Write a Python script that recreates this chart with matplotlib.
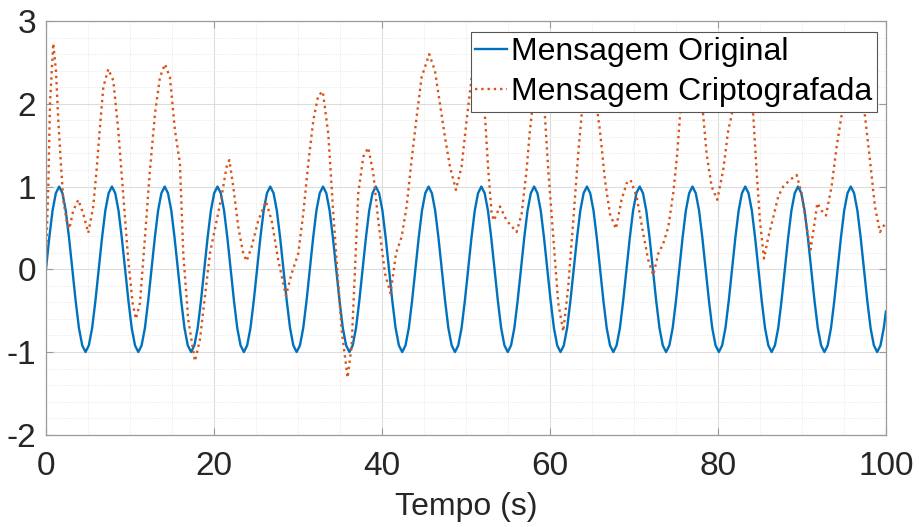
import numpy as np
import matplotlib
matplotlib.use('Agg')
import matplotlib.pyplot as plt
from matplotlib.ticker import MultipleLocator

plt.rcParams['font.family'] = ['Liberation Sans', 'DejaVu Sans']
plt.rcParams['axes.unicode_minus'] = False

# Mensagem original: leituras a cada pi/8 s (uma linha por periodo)
passo_orig = np.pi / 8
original = [
    0, .38, .71, .92, 1, .92, .71, .38, 0, -.38, -.71, -.92, -1, -.92, -.71, -.38,
    0, .38, .71, .92, 1, .92, .71, .38, 0, -.38, -.71, -.92, -1, -.92, -.71, -.38,
    0, .38, .71, .92, 1, .92, .71, .38, 0, -.38, -.71, -.92, -1, -.92, -.71, -.38,
    0, .38, .71, .92, 1, .92, .71, .38, 0, -.38, -.71, -.92, -1, -.92, -.71, -.38,
    0, .38, .71, .92, 1, .92, .71, .38, 0, -.38, -.71, -.92, -1, -.92, -.71, -.38,
    0, .38, .71, .92, 1, .92, .71, .38, 0, -.38, -.71, -.92, -1, -.92, -.71, -.38,
    0, .38, .71, .92, 1, .92, .71, .38, 0, -.38, -.71, -.92, -1, -.92, -.71, -.38,
    0, .38, .71, .92, 1, .92, .71, .38, 0, -.38, -.71, -.92, -1, -.92, -.71, -.38,
    0, .38, .71, .92, 1, .92, .71, .38, 0, -.38, -.71, -.92, -1, -.92, -.71, -.38,
    0, .38, .71, .92, 1, .92, .71, .38, 0, -.38, -.71, -.92, -1, -.92, -.71, -.38,
    0, .38, .71, .92, 1, .92, .71, .38, 0, -.38, -.71, -.92, -1, -.92, -.71, -.38,
    0, .38, .71, .92, 1, .92, .71, .38, 0, -.38, -.71, -.92, -1, -.92, -.71, -.38,
    0, .38, .71, .92, 1, .92, .71, .38, 0, -.38, -.71, -.92, -1, -.92, -.71, -.38,
    0, .38, .71, .92, 1, .92, .71, .38, 0, -.38, -.71, -.92, -1, -.92, -.71, -.38,
    0, .38, .71, .92, 1, .92, .71, .38, 0, -.38, -.71, -.92, -1, -.92, -.71, -.38,
    0, .38, .71, .92, 1, .92, .71, .38, 0, -.38, -.71, -.92, -1, -.92, -.71,
]
t_orig = np.append(np.arange(len(original)) * passo_orig, 100)
original = original + [-0.51]

# Mensagem criptografada
t_cripto = [0, 0.28, 0.48, 0.87, 1.19, 1.47, 1.75, 2.06, 2.46, 2.78, 3.25, 3.85, 4.44, 5.04,
            5.63, 6.03, 6.43, 6.83, 7.42, 8.02, 8.61, 9.21, 9.80, 10.32, 10.71, 11.19, 11.79,
            12.38, 12.98, 13.57, 14.17, 14.76, 15.36, 15.95, 16.35, 16.94, 17.74, 18.33, 18.93,
            19.52, 20.32, 20.91, 21.51, 21.83, 22.30, 22.90, 23.49, 23.89, 24.48, 25.28, 26.19,
            26.87, 27.66, 28.57, 29.25, 30.04, 30.63, 31.23, 31.83, 32.42, 32.96, 33.61, 34.13,
            34.6, 35.2, 35.91, 36.39, 36.79, 37.18, 37.78, 38.37, 38.97, 39.56, 40.36, 41.03,
            41.67, 42.34, 42.94, 43.53, 44.13, 44.72, 45.63, 46.31, 46.90, 47.50, 48.10, 48.81,
            49.48, 50.08, 50.48, 50.87, 51.15, 51.5, 51.9, 52.26, 52.66, 53.06, 53.33, 54.05,
            54.84, 56.03, 56.63, 57.22, 57.62, 57.82, 58.2, 58.6, 59.0, 59.40, 59.80, 60.40,
            60.99, 61.59, 62.18, 62.78, 63.37, 63.77, 64.2, 64.8, 65.4, 65.95, 66.55, 67.14,
            67.86, 68.53, 69.13, 69.60, 70.32, 71.11, 71.71, 72.30, 72.90, 73.49, 74.09, 74.68,
            75.16, 75.48, 76.0, 76.9, 77.7, 78.25, 78.65, 79.25, 79.92, 80.63, 81.23, 81.63,
            82.2, 82.9, 83.6, 84.21, 84.60, 85.0, 85.48, 86.0, 86.59, 87.18, 87.78, 88.57,
            89.37, 89.96, 90.56, 91.03, 91.55, 91.83, 92.34, 92.86, 93.53, 94.13, 94.72, 95.4,
            96.1, 96.8, 97.5, 98.10, 98.69, 99.29, 100.0]
cripto = [0.1, 1.0, 2.0, 2.73, 2.40, 1.80, 1.32, 0.84, 0.59, 0.49, 0.71, 0.84, 0.67, 0.44,
          0.76, 1.20, 1.72, 2.20, 2.42, 2.28, 1.68, 0.88, 0.11, -0.41, -0.60, -0.41, 0.39,
          1.20, 1.88, 2.32, 2.48, 2.32, 1.68, 1.28, 0.19, -0.61, -1.11, -0.85, -0.33,
          0.19, 0.59, 0.88, 1.24, 1.32, 1.00, 0.51, 0.19, 0.10, 0.27, 0.59, 0.82,
          0.59, 0.11, -0.32, -0.05, 0.19, 0.67, 1.28, 1.80, 2.10, 2.15, 1.64, 0.80,
          0.11, -0.73, -1.31, -0.93, -0.01, 0.92, 1.36, 1.47, 1.16, 0.59, -0.05, -0.29,
          0.19, 0.39, 0.76, 1.32, 1.84, 2.32, 2.60, 2.40, 2.00, 1.60, 1.24, 0.96,
          1.24, 1.80, 2.15, 2.48, 2.64, 2.70, 2.40, 1.86, 1.20, 0.67, 0.59, 0.76,
          0.59, 0.45, 0.67, 1.20, 1.68, 1.86, 2.25, 2.42, 2.25, 1.86, 1.20, 0.39,
          -0.41, -0.75, -0.21, 0.59, 1.40, 1.86, 2.20, 2.38, 2.10, 1.68, 1.08, 0.67,
          0.49, 0.84, 1.04, 1.08, 0.88, 0.43, 0.11, -0.07, 0.19, 0.31, 0.51, 0.92,
          1.40, 1.86, 2.30, 2.55, 2.30, 1.86, 1.40, 1.00, 0.84, 1.20, 1.68, 1.86,
          2.20, 2.35, 2.20, 1.86, 1.20, 0.59, 0.13, 0.39, 0.63, 0.88, 1.00, 1.08,
          1.14, 0.92, 0.51, 0.24, 0.59, 0.80, 0.71, 0.65, 1.00, 1.48, 1.86, 2.20,
          2.32, 2.20, 1.86, 1.32, 0.76, 0.45, 0.57]

fig = plt.figure(figsize=(9.19, 5.27), dpi=100)
ax = fig.add_axes([0.050, 0.175, 0.914, 0.785])

ax.plot(t_orig, original, color='#0072BD', linewidth=1.7, label='Mensagem Original')
ax.plot(t_cripto, cripto, color='#D95319', linewidth=1.7, linestyle=':', label='Mensagem Criptografada')

ax.set_xlim(0, 100)
ax.set_ylim(-2, 3)
ax.xaxis.set_major_locator(MultipleLocator(20))
ax.yaxis.set_major_locator(MultipleLocator(1))
ax.xaxis.set_minor_locator(MultipleLocator(5))
ax.yaxis.set_minor_locator(MultipleLocator(0.2))

ax.grid(which='major', color='#dcdcdc', linewidth=0.8)
ax.grid(which='minor', color='#e2e2e2', linewidth=0.6, linestyle=':')
ax.set_axisbelow(True)

for s in ax.spines.values():
    s.set_color('#9a9a9a')
    s.set_linewidth(0.9)
ax.tick_params(which='major', direction='in', length=5, color='#9a9a9a', labelsize=24,
               labelcolor='#262626', top=True, right=True)
ax.tick_params(axis='x', pad=12)
ax.tick_params(axis='y', pad=7)
ax.tick_params(which='minor', length=0)

ax.set_xlabel('Tempo (s)', fontsize=23, color='#262626', labelpad=7)

leg = ax.legend(loc='upper right', bbox_to_anchor=(0.989, 0.973), borderaxespad=0,
                fontsize=23, handlelength=1.0, handletextpad=0.1, borderpad=0.15,
                labelspacing=0.32, fancybox=False, framealpha=1, edgecolor='#555555')
leg.get_frame().set_linewidth(0.8)

fig.savefig('out.png', dpi=100)
